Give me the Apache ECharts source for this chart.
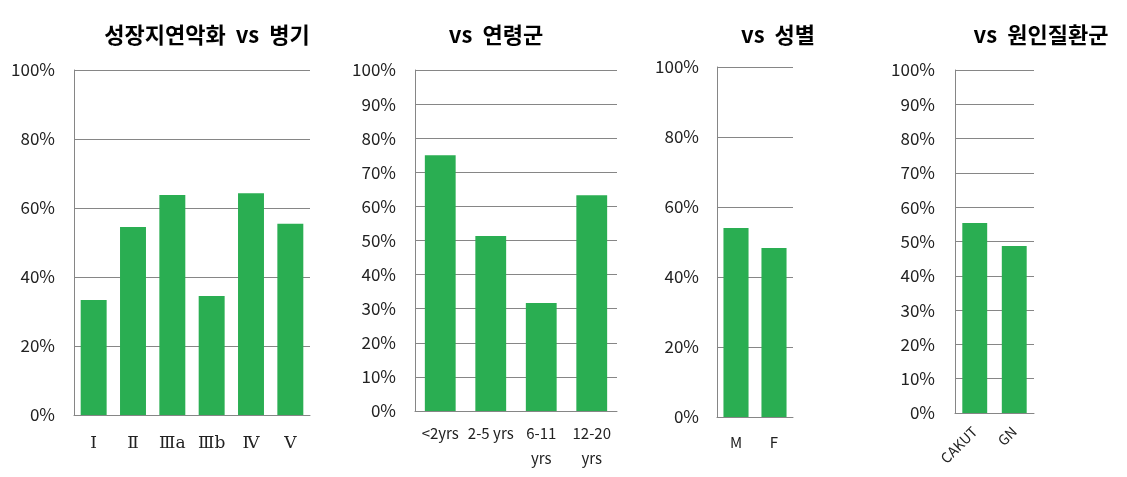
<!DOCTYPE html>
<html>
<head>
<meta charset="utf-8">
<script src="https://cdn.jsdelivr.net/npm/echarts@6/dist/echarts.min.js"></script>
<style>
  html, body { margin: 0; padding: 0; background: #fff; }
  #chart { width: 1127px; height: 477px; }
</style>
</head>
<body>
<div id="chart"></div>
<script>
// ---- Data ----
const titles = ['성장지연악화  vs  병기', 'vs  연령군', 'vs  성별', 'vs  원인질환군'];

const stageCategories = ['Ⅰ', 'Ⅱ', 'Ⅲa', 'Ⅲb', 'Ⅳ', 'Ⅴ'];
const stageValues = [0.333, 0.545, 0.638, 0.345, 0.643, 0.554];

const ageCategories = ['<2yrs', '2-5 yrs', '6-11\nyrs', '12-20\nyrs'];
const ageValues = [0.75, 0.513, 0.317, 0.633];

const sexCategories = ['M', 'F'];
const sexValues = [0.54, 0.483];

const causeCategories = ['CAKUT', 'GN'];
const causeValues = [0.554, 0.487];

const yIntervals = [0.2, 0.1, 0.2, 0.1];

// ---- Layout ----
const grids = [
  { left: 74, top: 70, width: 236, height: 345 },
  { left: 415, top: 70, width: 202, height: 341 },
  { left: 717, top: 67, width: 76, height: 350 },
  { left: 955, top: 70, width: 79, height: 343 }
];
const titleCenters = [202, 491, 773, 1036];
const gaps = ['34%', '39%', '34%', '37%'];
const yMargins = [19, 19, 18, 20];
const xMargins = [16, 10, 13, 16];
const xFontSizes = [17, 15, 15, 14];

const cats = [stageCategories, ageCategories, sexCategories, causeCategories];
const vals = [stageValues, ageValues, sexValues, causeValues];

const FONT = '"Noto Sans CJK KR", "Noto Sans", sans-serif';
const LINE = '#868686';
const GREEN = '#2aae52';

const option = {
  animation: false,
  backgroundColor: '#ffffff',
  title: titles.map((t, i) => ({
    text: t,
    left: titleCenters[i],
    top: 19,
    textAlign: 'center',
    textStyle: { fontFamily: FONT, fontSize: 22, fontWeight: 'bold', color: '#000' }
  })),
  grid: grids.map(g => Object.assign({ containLabel: false }, g)),
  xAxis: cats.map((c, i) => ({
    type: 'category',
    gridIndex: i,
    data: c,
    axisLine: { show: true, lineStyle: { color: LINE, width: 1 } },
    axisTick: { show: false },
    axisLabel: {
      interval: 0,
      margin: xMargins[i],
      fontFamily: i === 0 ? '"DejaVu Serif", serif' : FONT,
      fontSize: xFontSizes[i],
      color: '#222',
      lineHeight: 25,
      rotate: i === 3 ? 45 : 0
    }
  })),
  yAxis: yIntervals.map((iv, i) => ({
    type: 'value',
    gridIndex: i,
    min: 0,
    max: 1,
    interval: iv,
    axisLine: { show: true, lineStyle: { color: LINE, width: 1 } },
    axisTick: { show: false },
    splitLine: { show: true, lineStyle: { color: LINE, width: 1 } },
    axisLabel: {
      margin: yMargins[i],
      fontFamily: FONT,
      fontSize: 17,
      color: '#222',
      formatter: v => Math.round(v * 100) + '%'
    }
  })),
  series: vals.map((v, i) => ({
    type: 'bar',
    xAxisIndex: i,
    yAxisIndex: i,
    data: v,
    barCategoryGap: gaps[i],
    itemStyle: { color: GREEN },
    silent: true
  }))
};

const chart = echarts.init(document.getElementById('chart'), null, { renderer: 'canvas' });
chart.setOption(option);
</script>
</body>
</html>
